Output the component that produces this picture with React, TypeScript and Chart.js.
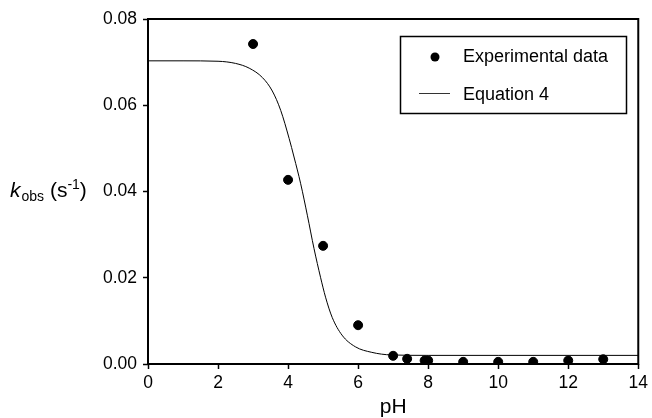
import React, { useEffect, useRef } from "react";
import { Chart, registerables } from "chart.js";

Chart.register(...registerables);

const phValues = [3, 4, 5, 6, 7, 7.4, 7.9, 8, 9, 10, 11, 12, 13];
const kValues = [0.0742, 0.0427, 0.0274, 0.009, 0.0019, 0.0012, 0.0008, 0.0008, 0.0005, 0.0005, 0.0005, 0.0008, 0.0011];

const curvePH = [0, 1, 2, 2.5, 2.89, 3.27, 3.55, 3.79, 4.03, 4.17, 4.36, 4.55, 4.74, 4.93, 5.07, 5.26, 5.54, 5.92, 6.39, 6.95, 8, 10, 14];
const curveK = [0.0703, 0.0703, 0.0702, 0.0697, 0.0686, 0.0664, 0.0633, 0.0588, 0.0523, 0.048, 0.0418, 0.0345, 0.0268, 0.02, 0.0155, 0.0108, 0.0067, 0.004, 0.0027, 0.0021, 0.002, 0.002, 0.002];

const xTicks = [0, 2, 4, 6, 8, 10, 12, 14];
const yTicks = [0, 0.02, 0.04, 0.06, 0.08];

const legendLabels = ["Experimental data", "Equation 4"];
const xTitle = "pH";

const FONT = "'Liberation Sans', Arial, Helvetica, sans-serif";

const framePlugin = {
  id: "frame",
  afterDraw(chart: any) {
    const { ctx, chartArea } = chart;
    const { left, right, top, bottom } = chartArea;
    ctx.save();
    ctx.strokeStyle = "#000";
    ctx.lineWidth = 2;
    ctx.strokeRect(left, top, right - left, bottom - top);

    // y-axis title: k_obs (s^-1)
    const baseY = 196.5;
    let x = 10;
    ctx.fillStyle = "#000";
    ctx.textBaseline = "alphabetic";
    ctx.textAlign = "left";
    ctx.font = `italic 21px ${FONT}`;
    ctx.fillText("k", x, baseY);
    x += ctx.measureText("k").width + 1;
    ctx.font = `14px ${FONT}`;
    ctx.fillText("obs", x, baseY + 4);
    x += ctx.measureText("obs").width;
    ctx.font = `21px ${FONT}`;
    const mid = " (s";
    ctx.fillText(mid, x, baseY);
    x += ctx.measureText(mid).width;
    ctx.font = `14px ${FONT}`;
    ctx.fillText("-1", x, baseY - 8);
    x += ctx.measureText("-1").width;
    ctx.font = `21px ${FONT}`;
    ctx.fillText(")", x, baseY);

    // legend
    const lx = 400.5, ly = 36.5, lw = 226, lh = 77;
    ctx.lineWidth = 1.5;
    ctx.strokeRect(lx, ly, lw, lh);
    ctx.font = `18px ${FONT}`;
    ctx.textBaseline = "middle";
    ctx.beginPath();
    ctx.arc(435, 57, 4.5, 0, Math.PI * 2);
    ctx.fill();
    ctx.fillText(chart.data.datasets[0].label, 463, 57);
    ctx.lineWidth = 1;
    ctx.strokeStyle = "#333";
    ctx.beginPath();
    ctx.moveTo(419, 93.5);
    ctx.lineTo(450, 93.5);
    ctx.stroke();
    ctx.fillText(chart.data.datasets[1].label, 463, 95);
    ctx.restore();
  },
};

export default function App() {
  const ref = useRef<HTMLCanvasElement>(null);
  useEffect(() => {
    const chart = new Chart(ref.current as HTMLCanvasElement, {
      type: "scatter",
      data: {
        datasets: [
          {
            label: legendLabels[0],
            data: phValues.map((p, i) => ({ x: p, y: kValues[i] })),
            backgroundColor: "#000",
            borderColor: "#000",
            pointRadius: 4.5,
            showLine: false,
          },
          {
            label: legendLabels[1],
            data: curvePH.map((p, i) => ({ x: p, y: curveK[i] })),
            showLine: true,
            borderColor: "#000",
            borderWidth: 1,
            pointRadius: 0,
            cubicInterpolationMode: "monotone",
          } as any,
        ],
      },
      options: {
        responsive: false,
        animation: false,
        layout: { padding: { top: 19, right: 10.5, left: 0, bottom: 0 } },
        plugins: { legend: { display: false }, tooltip: { enabled: false } },
        scales: {
          x: {
            type: "linear",
            min: 0,
            max: 14,
            afterBuildTicks: (s: any) => {
              s.ticks = xTicks.map((v) => ({ value: v }));
            },
            afterFit: (s: any) => {
              s.height = 54;
            },
            ticks: { color: "#000", font: { family: FONT, size: 17.5 }, padding: 4, maxRotation: 0 },
            grid: { drawOnChartArea: false, tickLength: 5, tickColor: "#000", tickWidth: 1.5 },
            border: { display: false },
            title: {
              display: true,
              text: xTitle,
              color: "#000",
              font: { family: FONT, size: 21, lineHeight: 1 },
              padding: { top: 0, bottom: 0 },
            },
          },
          y: {
            type: "linear",
            min: 0,
            max: 0.08,
            afterBuildTicks: (s: any) => {
              s.ticks = yTicks.map((v) => ({ value: v }));
            },
            afterFit: (s: any) => {
              s.width = 148;
            },
            ticks: {
              color: "#000",
              font: { family: FONT, size: 17.5 },
              padding: 6,
              callback: (v: any) => Number(v).toFixed(2),
            },
            grid: { drawOnChartArea: false, tickLength: 5, tickColor: "#000", tickWidth: 1.5 },
            border: { display: false },
          },
        },
      },
      plugins: [framePlugin],
    });
    return () => chart.destroy();
  }, []);
  return (
    <div style={{ position: "fixed", left: 0, top: 0, width: 652, height: 418, background: "#fff" }}>
      <canvas ref={ref} width={652} height={418} style={{ display: "block" }} />
    </div>
  );
}
